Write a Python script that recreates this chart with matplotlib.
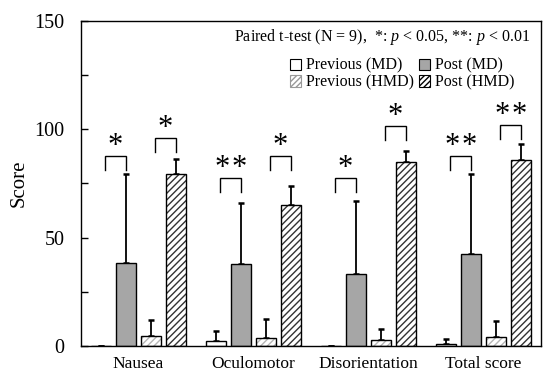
import numpy as np
import matplotlib
matplotlib.use("Agg")
import matplotlib.pyplot as plt
from matplotlib.patches import Patch

plt.rcParams['font.family'] = ['Liberation Serif', 'DejaVu Serif']
plt.rcParams['mathtext.fontset'] = 'custom'
plt.rcParams['mathtext.rm'] = 'Liberation Serif'
plt.rcParams['mathtext.it'] = 'Liberation Serif:italic'
plt.rcParams['hatch.linewidth'] = 1.0

categories = ["Nausea", "Oculomotor", "Disorientation", "Total score"]
series_names = ["Previous (MD)", "Post (MD)", "Previous (HMD)", "Post (HMD)"]
prev_md = [0.0, 2.3, 0.0, 1.0]
post_md = [38.3, 37.8, 33.2, 42.5]
prev_hmd = [4.6, 3.7, 2.8, 4.2]
post_hmd = [79.4, 65.0, 85.0, 86.0]
prev_md_err = [0.0, 4.6, 0.0, 2.2]
post_md_err = [41.1, 28.2, 33.8, 36.9]
prev_hmd_err = [7.4, 8.8, 5.0, 7.3]
post_hmd_err = [6.9, 9.0, 5.0, 7.2]
# significance markers: (MD pair, HMD pair) per category
sig_md = ["*", "**", "*", "**"]
sig_hmd = ["*", "*", "*", "**"]
bracket_md = [87.7, 77.5, 77.5, 87.7]
bracket_hmd = [96.0, 87.7, 101.5, 102.0]
yticks = [0, 50, 100, 150]

fig = plt.figure(figsize=(5.5, 3.78), dpi=100)
ax = fig.add_axes([81/550, 32/378, 460/550, 325/378])

x = np.arange(len(categories))
w = 0.18
offs = [-0.326, -0.109, 0.109, 0.326]
ekw = dict(ecolor='black', elinewidth=1.3, capsize=2.0, capthick=1.8)

def bar(vals, errs, off, face, hatch=None, hatchcol='black'):
    pos = x + off
    if hatch:
        ax.bar(pos, vals, w, color='white', edgecolor=hatchcol, hatch=hatch, linewidth=0, zorder=2)
        ax.bar(pos, vals, w, fill=False, edgecolor='black', linewidth=1.0, zorder=3)
    else:
        ax.bar(pos, vals, w, color=face, edgecolor='black', linewidth=1.0, zorder=2)
    ax.errorbar(pos, vals, yerr=[np.zeros(len(errs)), errs], fmt='none', zorder=1, **ekw)

bar(prev_md, prev_md_err, offs[0], 'white')
bar(post_md, post_md_err, offs[1], '#a6a6a6')
bar(prev_hmd, prev_hmd_err, offs[2], 'white', hatch='/////', hatchcol='#b5b5b5')
bar(post_hmd, post_hmd_err, offs[3], 'white', hatch='/////', hatchcol='#333333')

leg = 6.5
star_gap = 0.14
for i in range(len(categories)):
    for (sig, by, o) in [(sig_md[i], bracket_md[i], offs[1]), (sig_hmd[i], bracket_hmd[i], offs[3])]:
        xr = x[i] + o
        xl = xr - 0.18
        ax.plot([xl, xl, xr, xr], [by - leg, by, by, by - leg], color='black', lw=1.0,
                solid_joinstyle='miter', zorder=4)
        n = len(sig)
        xc = (xl + xr) / 2
        for k in range(n):
            ax.text(xc + (k - (n - 1) / 2) * star_gap, by + 1.0, "*",
                    ha='center', va='baseline', fontsize=22, zorder=4)

ax.set_xlim(-0.5, 3.5)
ax.set_ylim(0, 150)
ax.set_xticks(x)
ax.set_xticklabels(categories, fontsize=12.5)
ax.set_yticks(yticks)
ax.set_yticks([25, 75, 125], minor=True)
ax.tick_params(axis='y', which='both', direction='in', length=5, width=1, labelsize=14.5, pad=12)
ax.tick_params(axis='x', length=0, pad=7)
ax.set_ylabel("Score", fontsize=15, labelpad=4)
for s in ax.spines.values():
    s.set_linewidth(1.0)

ax.text(0.976, 0.951, r"Paired t-test (N = 9),  *: $\it{p}$ < 0.05, **: $\it{p}$ < 0.01",
        transform=ax.transAxes, ha='right', va='center', fontsize=11.5)

handles = [
    Patch(facecolor='white', edgecolor='black', linewidth=0.8),
    Patch(facecolor='#a6a6a6', edgecolor='black', linewidth=0.8),
    Patch(facecolor='white', edgecolor='#999999', hatch='//////', linewidth=0.8),
    Patch(facecolor='white', edgecolor='black', hatch='//////', linewidth=0.8),
]
lg = ax.legend([handles[0], handles[2], handles[1], handles[3]],
               [series_names[0], series_names[2], series_names[1], series_names[3]],
               ncol=2, loc='upper right', bbox_to_anchor=(0.942, 0.887), frameon=False,
               fontsize=11.5, handlelength=0.7, handleheight=0.7, handletextpad=0.3,
               columnspacing=0.3, labelspacing=0.05, borderpad=0, borderaxespad=0)

fig.savefig("out.png", dpi=100)
